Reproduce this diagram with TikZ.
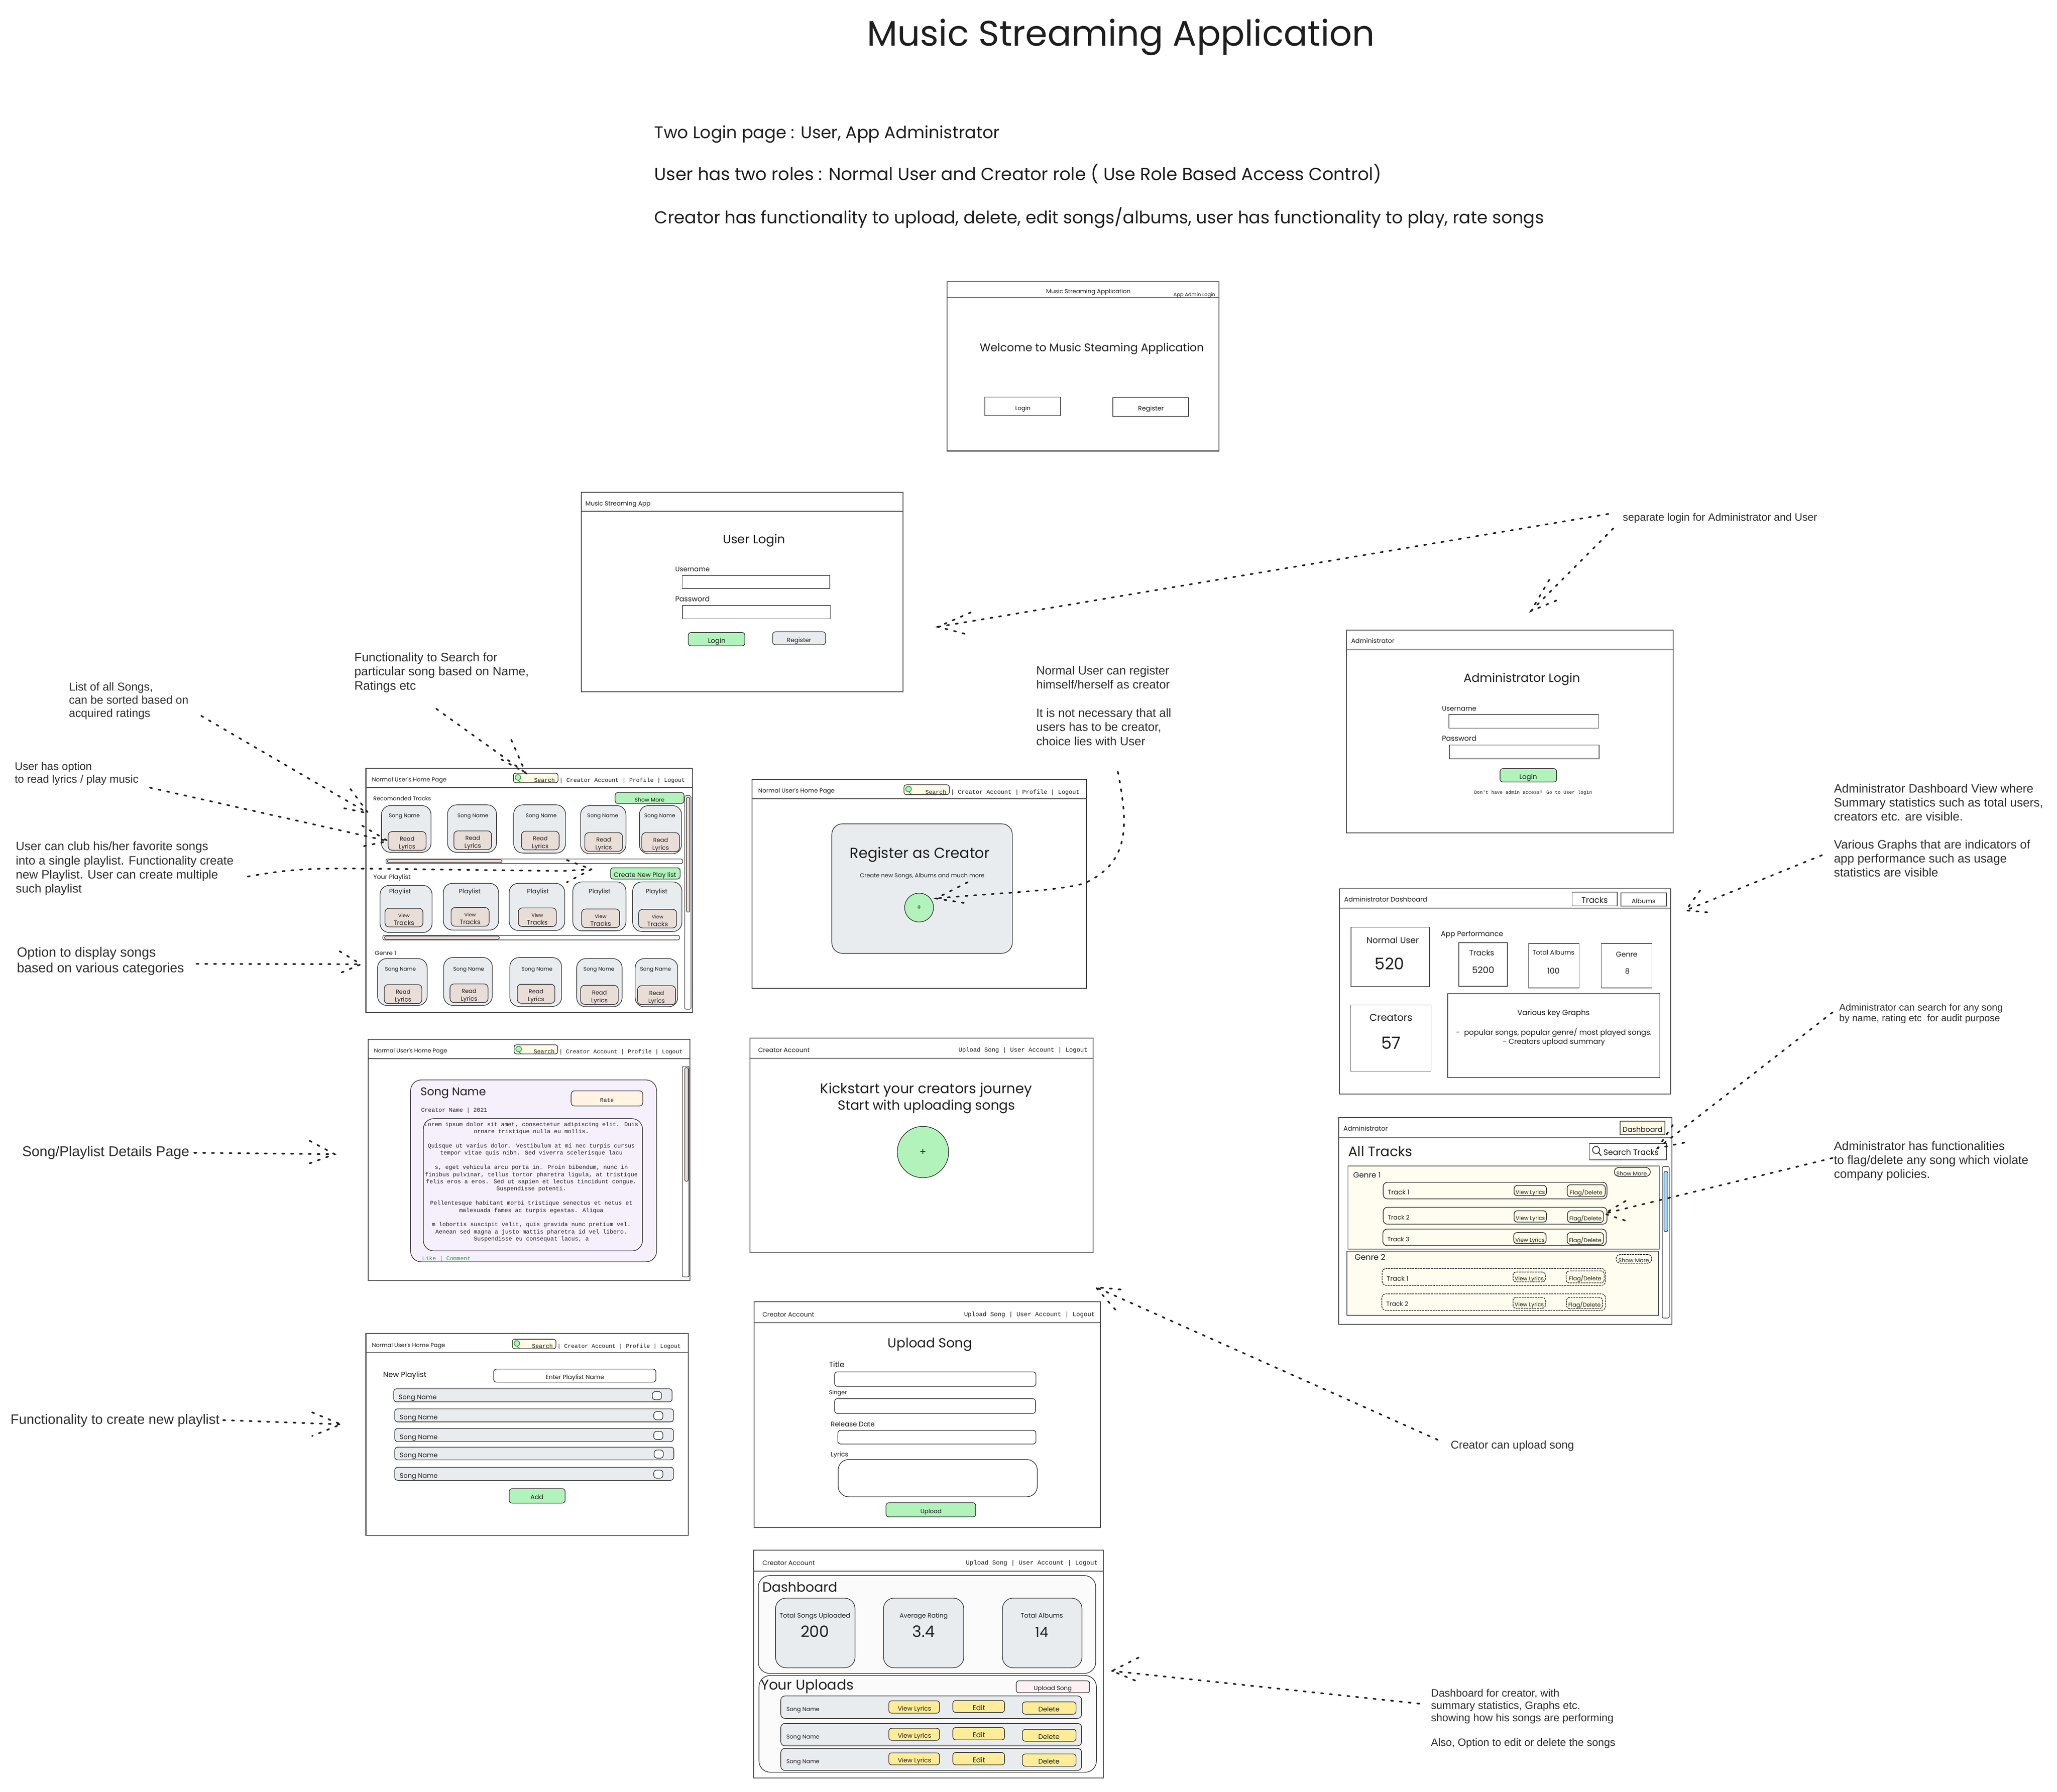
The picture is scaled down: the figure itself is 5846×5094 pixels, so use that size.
\documentclass[tikz,border=0pt]{standalone}
\usepackage{fontspec}
\usetikzlibrary{calc}
\setmainfont{Liberation Sans}
\newfontfamily\hand{Poppins}
\newfontfamily\mono{Liberation Mono}
\definecolor{ink}{HTML}{1E1E1E}
\definecolor{framec}{HTML}{4A4A4A}
\definecolor{notec}{HTML}{2E2E2E}
\definecolor{greenf}{HTML}{B2F2BB}
\definecolor{cardf}{HTML}{E9ECEF}
\definecolor{lyricf}{HTML}{E9DDD8}
\definecolor{yellowf}{HTML}{FFEC99}
\definecolor{lavf}{HTML}{F6F0FC}
\definecolor{paley}{HTML}{FFFBE6}
\definecolor{panely}{HTML}{FFFDF0}
\definecolor{peach}{HTML}{FFF4E3}
\definecolor{pink}{HTML}{FFF1F3}
\definecolor{faint}{HTML}{FBFBFB}
\definecolor{blues}{HTML}{A5D8FF}
\definecolor{likeg}{HTML}{2F9E44}
\newlength\fitlen
\newcommand{\fittxt}[7]{%
  \pgfinterruptpicture
    \settowidth{\fitlen}{#2\fontsize{10}{12}\selectfont #7}%
    \global\fitlen=\fitlen
  \endpgfinterruptpicture
  \pgfmathsetmacro\fitsz{2.5*#5/\fitlen}%
  \node[anchor=#6,inner sep=0pt,outer sep=0pt,text=ink,font=#2\fontsize{\fitsz}{\fitsz}\selectfont] (#1) at (#3,#4) {#7};}
\newcommand{\bxx}[6][]{%
  \node[inner sep=0pt,outer sep=0pt,#1,minimum width={(#5-#3)*0.25pt},minimum height={(#6-#4)*0.25pt}] (#2) at ({(#3+#5)/2},{(#4+#6)/2}) {};}
\newcommand{\winbox}[6]{%
  \bxx[frame]{#1}{#2}{#3}{#4}{#5}%
  \draw[frame] (#1.west |- 0,#6) -- (#1.east |- 0,#6);}
\newcommand{\cardbox}[9]{%
  \bxx[card]{#1}{#2}{#3}{#4}{#5}%
  \fittxt{#1t}{\hand}{#6}{#7}{#8}{mid}{#9}}
\newcommand{\btnbox}[9]{%
  \bxx[lyric]{#1}{#2}{#3}{#4}{#5}%
  \fittxt{#1a}{\hand}{{(#2+#4)/2}}{{(#3+#5)/2-11}}{#7}{mid}{#6}%
  \fittxt{#1b}{\hand}{{(#2+#4)/2}}{{(#3+#5)/2+11}}{#9}{mid}{#8}}
\newcommand{\srch}[6]{%
  \bxx[searchb]{#1}{#2}{#3}{#4}{#5}%
  \draw[line width=.5pt,draw=likeg] ({#2+14},{#3+21}) -- ({#2+21},{#3+26});
  \node[circle,draw=likeg,fill=greenf,line width=.5pt,inner sep=0pt,minimum size=4pt] (#1m) at ({#2+13},{#3+12}) {};
  \fittxt{#1s}{\mono}{{#4-9}}{{(#3+#5)/2+1}}{59}{mid east}{Search}%
  \fittxt{#1n}{\mono}{{#4+4}}{{(#3+#5)/2+1}}{#6}{mid west}{| Creator Account | Profile | Logout}}
\newcommand{\annot}[6]{%
  \node[anchor=north west,align=left,inner sep=0pt,outer sep=0pt,text=notec,font=\fontsize{\fpeval{#4*.25}}{\fpeval{#5*.25}}\selectfont] (#1) at ({#2},{#3-0.47*#4}) {#6};}
\newcommand{\arrowhead}[5]{\draw[conn] (#2,#3) -- (#1) -- (#4,#5);}
\tikzset{
  frame/.style={draw=framec,line width=.6pt},
  card/.style={draw=ink,fill=cardf,line width=.4pt,rounded corners=6.5pt},
  lyric/.style={draw=ink,fill=lyricf,line width=.4pt,rounded corners=2.8pt},
  greenb/.style={draw=ink,fill=greenf,line width=.4pt,rounded corners=2pt},
  greyb/.style={draw=ink,fill=cardf,line width=.4pt,rounded corners=2pt},
  searchb/.style={draw=ink,fill=paley,line width=.4pt,rounded corners=1.6pt},
  roundw/.style={draw=ink,line width=.4pt,rounded corners=2pt},
  plain/.style={draw=framec,line width=.5pt},
  bigr/.style={draw=ink,line width=.4pt,rounded corners=7.5pt},
  track/.style={draw=ink,line width=.45pt,rounded corners=3pt},
  tbtn/.style={draw=ink,line width=.45pt,fill=paley,rounded corners=2.2pt},
  dashy/.style={dash pattern=on 1.3pt off .6pt},
  yel/.style={draw=ink,fill=yellowf,line width=.4pt,rounded corners=2pt},
  scrollb/.style={draw=ink,line width=.35pt,rounded corners=1pt},
  conn/.style={draw=ink,line width=1.15pt,line cap=round,dash pattern=on 1.6pt off 4.65pt},
}
\begin{document}
\begin{tikzpicture}[x=0.25pt,y=-0.25pt]
\useasboundingbox (0,0) rectangle (5846,5094);

% ---- heading
\fittxt{title}{\hand}{2464}{120}{1443}{mid west}{Music Streaming Application}
\fittxt{introa}{\hand}{1860}{383}{981}{mid west}{Two Login page : User, App Administrator}
\fittxt{introb}{\hand}{1860}{502}{2066}{mid west}{User has two roles : Normal User and Creator role ( Use Role Based Access Control)}
\fittxt{introc}{\hand}{1860}{625}{2528}{mid west}{Creator has functionality to upload, delete, edit songs/albums, user has functionality to play, rate songs}

% ---- welcome window
\winbox{w1}{2691}{801}{3464}{1282}{847}
\fittxt{w1t}{\hand}{3093}{824}{240}{mid}{Music Streaming Application}
\fittxt{w1r}{\hand}{3335}{832}{119}{mid west}{App Admin Login}
\fittxt{w1w}{\hand}{3103}{989}{637}{mid}{Welcome to Music Steaming Application}
\bxx[plain]{w1a}{2799}{1129}{3014}{1182}
\fittxt{w1al}{\hand}{2907}{1156}{43}{mid}{Login}
\bxx[plain]{w1b}{3163}{1131}{3378}{1183}
\fittxt{w1bl}{\hand}{3271}{1157}{73}{mid}{Register}

% ---- user login
\winbox{w2}{1652}{1399}{2566}{1967}{1453}
\fittxt{w2t}{\hand}{1664}{1427}{185}{mid west}{Music Streaming App}
\fittxt{w2h}{\hand}{2143}{1534}{177}{mid}{User Login}
\fittxt{w2u}{\hand}{1919}{1614}{98}{mid west}{Username}
\bxx[plain]{w2ub}{1939}{1636}{2358}{1673}
\fittxt{w2p}{\hand}{1919}{1699}{98}{mid west}{Password}
\bxx[plain]{w2pb}{1940}{1721}{2360}{1759}
\bxx[greenb]{w2l}{1956}{1798}{2117}{1836}
\fittxt{w2lt}{\hand}{2037}{1817}{50}{mid}{Login}
\bxx[greyb]{w2r}{2196}{1796}{2346}{1833}
\fittxt{w2rt}{\hand}{2271}{1815}{69}{mid}{Register}

% ---- admin login
\winbox{w3}{3827}{1791}{4755}{2368}{1847}
\fittxt{w3t}{\hand}{3840}{1818}{123}{mid west}{Administrator}
\fittxt{w3h}{\hand}{4325}{1928}{331}{mid}{Administrator Login}
\fittxt{w3u}{\hand}{4098}{2010}{98}{mid west}{Username}
\bxx[plain]{w3ub}{4118}{2031}{4543}{2070}
\fittxt{w3p}{\hand}{4098}{2096}{98}{mid west}{Password}
\bxx[plain]{w3pb}{4119}{2118}{4545}{2157}
\bxx[greenb]{w3l}{4263}{2185}{4424}{2223}
\fittxt{w3lt}{\hand}{4343}{2204}{50}{mid}{Login}
\fittxt{w3d}{\mono}{4357}{2247}{335}{mid}{Don't have admin access? Go to User login}

% ---- user home page
\winbox{w4}{1040}{2184}{1968}{2879}{2239}
\fittxt{w4t}{\hand}{1057}{2211}{212}{mid west}{Normal User's Home Page}
\srch{w4s}{1459}{2198}{1586}{2225}{357}
\fittxt{w4a}{\hand}{1061}{2265}{164}{mid west}{Recomanded Tracks}
\bxx[greenb]{w4m}{1748}{2253}{1944}{2284}
\fittxt{w4mt}{\hand}{1846}{2269}{85}{mid}{Show More}
\foreach \n/\a/\b/\c/\d/\tx in {1/1084/2290/1225/2423/1149,2/1272/2288/1411/2423/1344,3/1460/2288/1607/2425/1538,4/1650/2290/1779/2427/1713,5/1817/2290/1937/2427/1875}{
  \cardbox{ra\n}{\a}{\b}{\c}{\d}{\tx}{2313}{88}{Song Name}
}
\foreach \n/\a/\b/\c/\d in {1/1103/2364/1211/2417,2/1290/2362/1397/2415,3/1482/2363/1589/2416,4/1662/2367/1769/2420,5/1824/2367/1931/2421}{
  \btnbox{rab\n}{\a}{\b}{\c}{\d}{Read}{42}{Lyrics}{47}
}
\bxx[scrollb]{w4h1}{1097}{2442}{1940}{2455}
\bxx[scrollb,fill=lyricf]{w4h1t}{1101}{2444}{1427}{2452}
\fittxt{w4y}{\hand}{1061}{2488}{106}{mid west}{Your Playlist}
\bxx[greenb]{w4c}{1735}{2467}{1933}{2499}
\fittxt{w4ct}{\hand}{1833}{2483}{177}{mid}{Create New Play list}
\foreach \n/\a/\b/\c/\d/\tx in {1/1080/2517/1228/2651/1137,2/1260/2511/1417/2644/1335,3/1447/2511/1605/2645/1529,4/1628/2507/1779/2646/1704,5/1798/2507/1938/2648/1866}{
  \cardbox{rb\n}{\a}{\b}{\c}{\d}{\tx}{2530}{62}{Playlist}
}
\foreach \n/\a/\b/\c/\d in {1/1094/2582/1202/2635,2/1282/2580/1390/2633,3/1473/2581/1581/2634,4/1653/2584/1761/2637,5/1815/2585/1923/2638}{
  \btnbox{rbb\n}{\a}{\b}{\c}{\d}{View}{33}{Tracks}{59}
}
\bxx[scrollb]{w4h2}{1088}{2659}{1931}{2672}
\bxx[scrollb,fill=lyricf]{w4h2t}{1093}{2661}{1419}{2670}
\fittxt{w4g}{\hand}{1065}{2705}{61}{mid west}{Genre 1}
\foreach \n/\a/\b/\c/\d/\tx in {1/1073/2725/1214/2858/1138,2/1261/2722/1399/2858/1332,3/1449/2722/1596/2861/1526,4/1639/2725/1768/2862/1702,5/1805/2725/1926/2862/1863}{
  \cardbox{rc\n}{\a}{\b}{\c}{\d}{\tx}{2749}{88}{Song Name}
}
\foreach \n/\a/\b/\c/\d in {1/1092/2799/1199/2853,2/1279/2797/1387/2850,3/1470/2798/1577/2852,4/1650/2801/1757/2855,5/1812/2802/1920/2856}{
  \btnbox{rcb\n}{\a}{\b}{\c}{\d}{Read}{42}{Lyrics}{47}
}
\bxx[scrollb]{w4v}{1946}{2262}{1964}{2869}
\bxx[scrollb,fill=lyricf]{w4vt}{1951}{2266}{1960}{2593}

% ---- register as creator
\winbox{w5}{2137}{2216}{3088}{2810}{2271}
\fittxt{w5t}{\hand}{2155}{2243}{217}{mid west}{Normal User's Home Page}
\srch{w5s}{2569}{2231}{2698}{2259}{366}
\bxx[card,rounded corners=7.5pt]{w5c}{2364}{2342}{2877}{2710}
\fittxt{w5h}{\hand}{2614}{2429}{398}{mid}{Register as Creator}
\fittxt{w5n}{\hand}{2621}{2484}{354}{mid}{Create new Songs, Albums and much more}
\node[circle,draw=ink,fill=greenf,line width=.4pt,inner sep=0pt,minimum size=20.5pt] (w5p) at (2612,2580) {};
\fittxt{w5pt}{\mono}{2612}{2580}{14}{center}{+}

% ---- admin dashboard
\winbox{w6}{3807}{2527}{4748}{3110}{2582}
\fittxt{w6t}{\hand}{3820}{2553}{236}{mid west}{Administrator Dashboard}
\bxx[plain]{w6a}{4468}{2536}{4596}{2575}
\fittxt{w6at}{\hand}{4532}{2556}{75}{mid}{Tracks}
\bxx[plain]{w6b}{4607}{2538}{4736}{2576}
\fittxt{w6bt}{\hand}{4671}{2557}{68}{mid}{Albums}
\bxx[plain]{w6c}{3840}{2636}{4063}{2805}
\fittxt{w6ct}{\hand}{3958}{2671}{149}{mid}{Normal User}
\fittxt{w6cn}{\hand}{3949}{2746}{84}{mid}{520}
\fittxt{w6p}{\hand}{4095}{2651}{177}{mid west}{App Performance}
\bxx[plain]{w6d}{4146}{2680}{4284}{2804}
\fittxt{w6dt}{\hand}{4211}{2706}{71}{mid}{Tracks}
\fittxt{w6dn}{\hand}{4215}{2756}{63}{mid}{5200}
\bxx[plain]{w6e}{4344}{2682}{4488}{2808}
\fittxt{w6et}{\hand}{4415}{2704}{119}{mid}{Total Albums}
\fittxt{w6en}{\hand}{4415}{2758}{35}{mid}{100}
\bxx[plain]{w6f}{4551}{2682}{4695}{2808}
\fittxt{w6ft}{\hand}{4623}{2709}{61}{mid}{Genre}
\fittxt{w6fn}{\hand}{4625}{2758}{13}{mid}{8}
\bxx[plain]{w6g}{3838}{2857}{4067}{3045}
\fittxt{w6gt}{\hand}{3953}{2892}{122}{mid}{Creators}
\fittxt{w6gn}{\hand}{3953}{2971}{56}{mid}{57}
\bxx[plain]{w6k}{4114}{2825}{4717}{3063}
\fittxt{w6kt}{\hand}{4415}{2876}{206}{mid}{Various key Graphs}
\fittxt{w6ka}{\hand}{4416}{2932}{556}{mid}{-\ \ popular songs, popular genre/ most played songs.}
\fittxt{w6kb}{\hand}{4416}{2958}{291}{mid}{- Creators upload summary}

% ---- song details
\winbox{w7}{1046}{2954}{1961}{3640}{3009}
\fittxt{w7t}{\hand}{1063}{2982}{208}{mid west}{Normal User's Home Page}
\srch{w7s}{1461}{2970}{1585}{2996}{351}
\bxx[draw=ink,fill=lavf,line width=.4pt,rounded corners=7.5pt]{w7c}{1167}{3070}{1866}{3587}
\fittxt{w7h}{\hand}{1195}{3104}{186}{mid west}{Song Name}
\fittxt{w7n}{\mono}{1197}{3150}{188}{mid west}{Creator Name | 2021}
\bxx[draw=ink,fill=peach,line width=.4pt,rounded corners=2.5pt]{w7r}{1623}{3101}{1827}{3144}
\fittxt{w7rt}{\mono}{1725}{3122}{39}{mid}{Rate}
\bxx[bigr]{w7l}{1203}{3180}{1826}{3556}
\node[anchor=north,align=center,inner sep=0pt,text=ink,font=\mono\fontsize{4.13}{5.08}\selectfont] (w7lt) at (1510,3189) {Lorem ipsum dolor sit amet, consectetur adipiscing elit. Duis\\ornare tristique nulla eu mollis.\\~\\Quisque ut varius dolor. Vestibulum at mi nec turpis cursus\\tempor vitae quis nibh. Sed viverra scelerisque lacu\\~\\s, eget vehicula arcu porta in. Proin bibendum, nunc in\\finibus pulvinar, tellus tortor pharetra ligula, at tristique\\felis eros a eros. Sed ut sapien et lectus tincidunt congue.\\Suspendisse potenti.\\~\\Pellentesque habitant morbi tristique senectus et netus et\\malesuada fames ac turpis egestas. Aliqua\\~\\m lobortis suscipit velit, quis gravida nunc pretium vel.\\Aenean sed magna a justo mattis pharetra id vel libero.\\Suspendisse eu consequat lacus, a};
\node[anchor=mid west,inner sep=0pt,text=likeg,font=\mono\fontsize{4.1}{5}\selectfont] (w7k) at (1199,3572) {Like | Comment};
\bxx[scrollb]{w7v}{1939}{3031}{1958}{3630}
\bxx[scrollb,fill=lyricf]{w7vt}{1946}{3035}{1956}{3358}

% ---- creator kick-start
\winbox{w8}{2131}{2951}{3107}{3561}{3008}
\fittxt{w8t}{\hand}{2155}{2981}{146}{mid west}{Creator Account}
\fittxt{w8n}{\mono}{3091}{2980}{367}{mid east}{Upload Song | User Account | Logout}
\fittxt{w8a}{\hand}{2632}{3098}{602}{mid}{Kickstart your creators journey}
\fittxt{w8b}{\hand}{2633}{3145}{504}{mid}{Start with uploading songs}
\node[circle,draw=ink,fill=greenf,line width=.4pt,inner sep=0pt,minimum size=36.5pt] (w8p) at (2623,3275) {};
\fittxt{w8pt}{\mono}{2623}{3275}{18}{center}{+}

% ---- admin tracks
\winbox{w9}{3805}{3177}{4752}{3765}{3233}
\fittxt{w9t}{\hand}{3818}{3204}{126}{mid west}{Administrator}
\bxx[plain,fill=paley]{w9d}{4604}{3187}{4732}{3226}
\fittxt{w9dt}{\hand}{4668}{3208}{114}{mid}{Dashboard}
\fittxt{w9h}{\hand}{3832}{3277}{182}{mid west}{All Tracks}
\bxx[plain]{w9s}{4517}{3250}{4736}{3297}
\node[circle,draw=ink,line width=.5pt,inner sep=0pt,minimum size=5pt] (w9sm) at (4536,3269) {};
\draw[draw=ink,line width=.6pt] (w9sm.south east) -- ++(7,9);
\fittxt{w9st}{\hand}{4557}{3273}{157}{mid west}{Search Tracks}
\bxx[plain,fill=panely]{g1}{3831}{3315}{4716}{3551}
\fittxt{g1t}{\hand}{3846}{3337}{78}{mid west}{Genre 1}
\bxx[track]{g1m}{4588}{3319}{4690}{3344}
\fittxt{g1mt}{\hand}{4637}{3331}{87}{mid}{Show More}
\foreach \n/\a/\b/\c/\d/\va/\vb/\vc/\vd/\fa/\fb/\fc/\fd in {
 1/3931/3361/4567/3408/4303/3370/4395/3399/4454/3368/4562/3402,
 2/3931/3432/4567/3480/4303/3442/4395/3474/4455/3442/4557/3475,
 3/3930/3494/4565/3541/4302/3504/4394/3535/4454/3504/4557/3537}{
  \bxx[track]{t\n}{\a}{\b}{\c}{\d}
  \fittxt{t\n t}{\hand}{{\a+13}}{{(\b+\d)/2+1}}{62}{mid west}{Track \n}
  \bxx[tbtn]{t\n v}{\va}{\vb}{\vc}{\vd}
  \fittxt{t\n vt}{\hand}{{(\va+\vc)/2}}{{(\vb+\vd)/2}}{83}{mid}{View Lyrics}
  \bxx[tbtn]{t\n f}{\fa}{\fb}{\fc}{\fd}
  \fittxt{t\n ft}{\hand}{{(\fa+\fc)/2}}{{(\fb+\fd)/2}}{92}{mid}{Flag/Delete}
}
\bxx[plain,fill=panely]{g2}{3828}{3557}{4713}{3739}
\fittxt{g2t}{\hand}{3850}{3571}{87}{mid west}{Genre 2}
\bxx[track,dashy]{g2m}{4593}{3566}{4694}{3591}
\fittxt{g2mt}{\hand}{4643}{3578}{87}{mid}{Show More}
\foreach \n/\a/\b/\c/\d/\va/\vb/\vc/\vd/\fa/\fb/\fc/\fd in {
 1/3928/3606/4563/3654/4300/3616/4392/3644/4451/3613/4559/3647,
 2/3927/3678/4563/3725/4300/3688/4392/3719/4452/3688/4554/3720}{
  \bxx[track,dashy]{u\n}{\a}{\b}{\c}{\d}
  \fittxt{u\n t}{\hand}{{\a+13}}{{(\b+\d)/2+1}}{62}{mid west}{Track \n}
  \bxx[tbtn,dashy]{u\n v}{\va}{\vb}{\vc}{\vd}
  \fittxt{u\n vt}{\hand}{{(\va+\vc)/2}}{{(\vb+\vd)/2}}{83}{mid}{View Lyrics}
  \bxx[tbtn,dashy]{u\n f}{\fa}{\fb}{\fc}{\fd}
  \fittxt{u\n ft}{\hand}{{(\fa+\fc)/2}}{{(\fb+\fd)/2}}{92}{mid}{Flag/Delete}
}
\bxx[scrollb]{w9v}{4724}{3316}{4744}{3747}
\bxx[scrollb,fill=blues]{w9vt}{4729}{3330}{4740}{3501}

% ---- upload song
\winbox{w10}{2143}{3701}{3128}{4342}{3760}
\fittxt{w10t}{\hand}{2167}{3733}{147}{mid west}{Creator Account}
\fittxt{w10n}{\mono}{3112}{3731}{372}{mid east}{Upload Song | User Account | Logout}
\fittxt{w10h}{\hand}{2643}{3820}{240}{mid}{Upload Song}
\fittxt{w10a}{\hand}{2356}{3876}{44}{mid west}{Title}
\bxx[roundw]{w10ab}{2372}{3900}{2944}{3941}
\fittxt{w10b}{\hand}{2356}{3954}{51}{mid west}{Singer}
\bxx[roundw]{w10bb}{2372}{3976}{2943}{4018}
\fittxt{w10c}{\hand}{2361}{4045}{125}{mid west}{Release Date}
\bxx[roundw]{w10cb}{2381}{4066}{2944}{4105}
\fittxt{w10d}{\hand}{2361}{4130}{50}{mid west}{Lyrics}
\bxx[bigr]{w10db}{2382}{4149}{2948}{4255}
\bxx[greenb]{w10u}{2518}{4272}{2773}{4312}
\fittxt{w10ut}{\hand}{2646}{4292}{60}{mid}{Upload}

% ---- new playlist
\winbox{w11}{1040}{3791}{1956}{4365}{3846}
\fittxt{w11t}{\hand}{1057}{3819}{208}{mid west}{Normal User's Home Page}
\srch{w11s}{1456}{3807}{1580}{3834}{351}
\fittxt{w11p}{\hand}{1089}{3905}{123}{mid west}{New Playlist}
\bxx[roundw]{w11e}{1403}{3892}{1864}{3929}
\fittxt{w11et}{\hand}{1634}{3910}{166}{mid}{Enter Playlist Name}
\foreach \n/\a/\b/\c/\d in {1/1119/3948/1910/3985,2/1122/4005/1914/4042,3/1122/4061/1914/4098,4/1122/4114/1915/4150,5/1122/4171/1914/4208}{
  \bxx[greyb]{pl\n}{\a}{\b}{\c}{\d}
  \fittxt{pl\n t}{\hand}{{\a+14}}{{(\b+\d)/2+1}}{108}{mid west}{Song Name}
  \bxx[roundw,fill=white]{pl\n c}{(\c-56)}{(\b+8)}{(\c-30)}{(\b+31)}
}
\bxx[greenb]{w11a}{1447}{4232}{1606}{4273}
\fittxt{w11at}{\hand}{1526}{4252}{37}{mid}{Add}

% ---- creator dashboard
\winbox{w12}{2142}{4407}{3136}{5054}{4466}
\fittxt{w12t}{\hand}{2167}{4439}{149}{mid west}{Creator Account}
\fittxt{w12n}{\mono}{3120}{4438}{375}{mid east}{Upload Song | User Account | Logout}
\bxx[bigr,fill=faint,rounded corners=8pt]{d1}{2155}{4479}{3114}{4757}
\fittxt{d1t}{\hand}{2167}{4515}{213}{mid west}{Dashboard}
\foreach \n/\a/\c/\tx/\tw/\lb/\nw/\nv in {1/2204/2430/2316/201/Total Songs Uploaded/81/200,2/2511/2739/2625/137/Average Rating/64/3.4,3/2849/3075/2961/120/Total Albums/37/14}{
  \bxx[card,rounded corners=7.5pt]{ds\n}{\a}{4543}{\c}{4741}
  \fittxt{ds\n t}{\hand}{\tx}{4589}{\tw}{mid}{\lb}
  \fittxt{ds\n v}{\hand}{\tx}{4643}{\nw}{mid}{\nv}
}
\bxx[bigr,fill=faint,rounded corners=8pt]{d2}{2157}{4763}{3116}{5038}
\fittxt{d2t}{\hand}{2162}{4793}{264}{mid west}{Your Uploads}
\bxx[draw=ink,fill=pink,line width=.4pt,rounded corners=2pt]{d2u}{2888}{4778}{3097}{4812}
\fittxt{d2ut}{\hand}{2992}{4794}{108}{mid}{Upload Song}
\foreach \n/\b/\d/\va/\vb/\ea/\eb/\xa/\xb in {1/4821/4885/4835/4870/4834/4868/4838/4873,2/4899/4963/4913/4947/4911/4946/4916/4950,3/4970/5033/4983/5017/4982/5017/4986/5021}{
  \bxx[greyb,rounded corners=3pt]{dr\n}{2219}{\b}{3074}{\d}
  \fittxt{dr\n t}{\hand}{2235}{{(\b+\d)/2+1}}{94}{mid west}{Song Name}
  \bxx[yel]{dr\n v}{2526}{\va}{2670}{\vb}
  \fittxt{dr\n vt}{\hand}{2599}{{(\va+\vb)/2}}{95}{mid}{View Lyrics}
  \bxx[yel]{dr\n e}{2708}{\ea}{2855}{\eb}
  \fittxt{dr\n et}{\hand}{2782}{{(\ea+\eb)/2}}{36}{mid}{Edit}
  \bxx[yel]{dr\n x}{2906}{\xa}{3058}{\xb}
  \fittxt{dr\n xt}{\hand}{2981}{{(\xa+\xb)/2}}{60}{mid}{Delete}
}

% ---- annotations
\annot{nSearch}{1007}{1872}{35}{40}{Functionality to Search for\\particular song based on Name,\\Ratings etc}
\annot{nList}{196}{1955}{32.5}{37.5}{List of all Songs,\\can be sorted based on\\acquired ratings}
\annot{nOpt}{42}{2181}{31.3}{36}{User has option\\to read lyrics / play music}
\annot{nClub}{45}{2409}{34.4}{40}{User can club his/her favorite songs\\into a single playlist. Functionality create\\new Playlist. User can create multiple\\such playlist}
\annot{nCat}{48}{2711}{38}{44}{Option to display songs\\based on various categories}
\annot{nDet}{63}{3277}{40.5}{46}{Song/Playlist Details Page}
\annot{nNew}{30}{4038}{39}{44}{Functionality to create new playlist}
\annot{nSep}{4612}{1473}{30.3}{35}{separate login for Administrator and User}
\annot{nReg}{2945}{1909}{34}{40.2}{Normal User can register\\himself/herself as creator\\~\\It is not necessary that all\\users has to be creator,\\choice lies with User}
\annot{nAdm}{5212}{2245}{34.4}{39.8}{Administrator Dashboard View where\\Summary statistics such as total users,\\creators etc. are visible.\\~\\Various Graphs that are indicators of\\app performance such as usage\\statistics are visible}
\annot{nAud}{5227}{2866}{27.6}{31}{Administrator can search for any song\\by name, rating etc\ \ for audit purpose}
\annot{nFlag}{5212}{3261}{34.4}{39.5}{Administrator has functionalities\\to flag/delete any song which violate\\company policies.}
\annot{nUp}{4123}{4110}{32}{37}{Creator can upload song}
\annot{nDash}{4067}{4816}{30.4}{35}{Dashboard for creator, with\\summary statistics, Graphs etc.\\showing how his songs are performing\\~\\Also, Option to edit or delete the songs}

% ---- connectors
\coordinate (s1) at (4571,1461); \coordinate (e1) at (2665,1782);
\draw[conn] (s1) -- (e1); \arrowhead{e1}{2759}{1741}{2751}{1804}
\coordinate (s2) at (4585,1502); \coordinate (e2) at (4351,1737);
\draw[conn] (s2) -- (e2); \arrowhead{e2}{4403}{1648}{4440}{1700}
\coordinate (s3) at (1240,2015); \coordinate (e3) at (1494,2197);
\draw[conn] (s3) -- (e3); \arrowhead{e3}{1453}{2103}{1418}{2155}
\coordinate (s4) at (572,2035); \coordinate (e4) at (1047,2312);
\draw[conn] (s4) -- (e4); \arrowhead{e4}{996}{2243}{965}{2295}
\coordinate (s5) at (426,2239); \coordinate (e5) at (1103,2391);
\draw[conn] (s5) -- (e5); \arrowhead{e5}{1029}{2347}{1016}{2409}
\coordinate (s6) at (704,2492); \coordinate (e6) at (1681,2471);
\draw[conn] (s6) .. controls (820,2470) and (900,2468) .. (1010,2469) -- (1600,2476) -- (e6); \arrowhead{e6}{1611}{2445}{1611}{2508}
\coordinate (s7) at (558,2740); \coordinate (e7) at (1026,2741);
\draw[conn] (s7) -- (e7); \arrowhead{e7}{965}{2704}{965}{2767}
\coordinate (s8) at (552,3277); \coordinate (e8) at (951,3281);
\draw[conn] (s8) -- (e8); \arrowhead{e8}{880}{3243}{880}{3307}
\coordinate (s9) at (634,4037); \coordinate (e9) at (969,4049);
\draw[conn] (s9) -- (e9); \arrowhead{e9}{887}{4015}{887}{4082}
\coordinate (s10) at (3177,2194); \coordinate (e10) at (2660,2554);
\draw[conn] (s10) .. controls (3205,2340) and (3215,2450) .. (3082,2511) .. controls (3000,2535) and (2800,2540) .. (e10); \arrowhead{e10}{2750}{2508}{2754}{2569}
\coordinate (s11) at (4086,4093); \coordinate (e11) at (3114,3659);
\draw[conn] (s11) -- (e11); \arrowhead{e11}{3170}{3723}{3198}{3667}
\coordinate (s12) at (4034,4843); \coordinate (e12) at (3160,4750);
\draw[conn] (s12) -- (e12); \arrowhead{e12}{3236}{4712}{3240}{4783}
\coordinate (s13) at (5178,2431); \coordinate (e13) at (4791,2588);
\draw[conn] (s13) -- (e13); \arrowhead{e13}{4832}{2531}{4869}{2595}
\coordinate (s14) at (5208,2878); \coordinate (e14) at (4711,3264);
\draw[conn] (s14) -- (e14); \arrowhead{e14}{4754}{3198}{4792}{3247}
\coordinate (s15) at (5208,3292); \coordinate (e15) at (4560,3450);
\draw[conn] (s15) -- (e15); \arrowhead{e15}{4620}{3414}{4634}{3475}
\end{tikzpicture}
\end{document}
